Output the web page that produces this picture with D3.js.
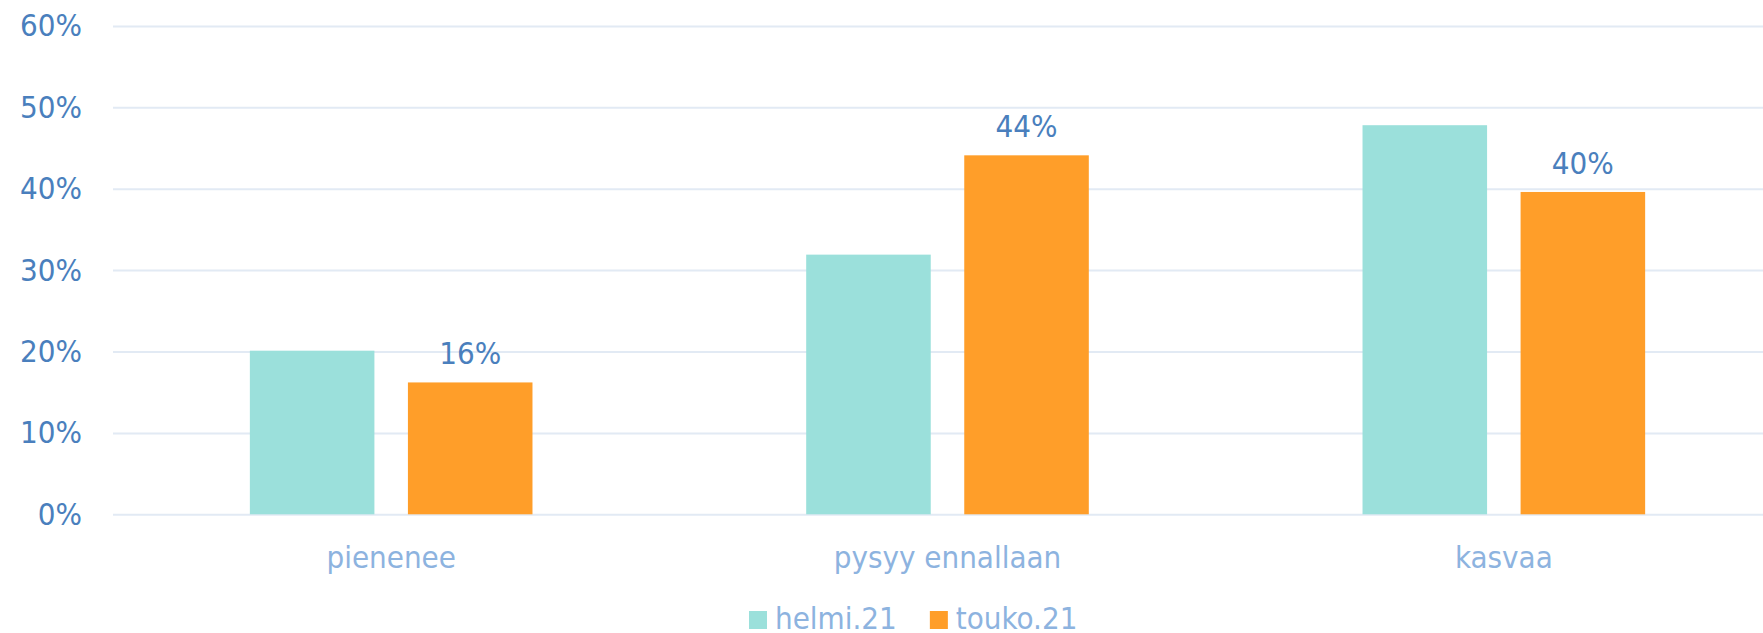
<!DOCTYPE html>
<html>
<head>
    <meta charset="utf-8">
    <title>pienenee / pysyy ennallaan / kasvaa</title>
    <script src="https://d3js.org/d3.v7.min.js"></script>
    <style>
        body { margin: 0; background: #fff; }
        text { font-family: "DejaVu Sans Condensed", "DejaVu Sans", sans-serif; }
    </style>
</head>
<body>
<script>
    // data
    const categories = ["pienenee", "pysyy ennallaan", "kasvaa"];
    const seriesNames = ["helmi.21", "touko.21"];
    const helmi = [0.201, 0.319, 0.478];
    const touko = [0.162, 0.441, 0.396];
    const yTicks = [0, 0.1, 0.2, 0.3, 0.4, 0.5, 0.6];

    const colors = ["#9be0db", "#ff9e29"];
    const width = 1763, height = 633;

    const svg = d3.select("body")
        .append("svg")
        .attr("width", width)
        .attr("height", height);

    // plot area runs past the right edge (the original is cropped there)
    const x0 = d3.scaleBand()
        .domain(categories)
        .range([113, 1782])
        .paddingInner(0.492)
        .paddingOuter(0.246);

    const x1 = d3.scaleBand()
        .domain(seriesNames)
        .range([0, x0.bandwidth()])
        .paddingInner(0.212);

    const y = d3.scaleLinear()
        .domain([0, 0.6])
        .range([514.3, 25.9]);

    // gridlines
    svg.append("g")
        .attr("transform", "translate(113,0)")
        .call(d3.axisLeft(y).tickValues(yTicks).tickSize(-(width - 113)).tickFormat(""))
        .call(g => g.select(".domain").remove())
        .call(g => g.selectAll("line").attr("stroke", "#e2eaf4").attr("stroke-width", 2));

    // y tick labels
    svg.append("g")
        .attr("transform", "translate(82,0)")
        .call(d3.axisLeft(y).tickValues(yTicks).tickSize(0).tickPadding(0).tickFormat(d3.format(".0%")))
        .call(g => g.select(".domain").remove())
        .call(g => g.selectAll("text")
            .attr("fill", "#4a7fbd")
            .attr("font-size", 31)
            .attr("font-family", null));

    const table = categories.map((c, i) => ({ cat: c, values: [helmi[i], touko[i]] }));

    const groups = svg.selectAll(".grp")
        .data(table)
        .join("g")
        .attr("class", "grp")
        .attr("transform", d => "translate(" + x0(d.cat) + ",0)");

    groups.selectAll("rect")
        .data(d => d.values.map((v, j) => ({ name: seriesNames[j], v: v, j: j })))
        .join("rect")
        .attr("x", d => x1(d.name))
        .attr("width", x1.bandwidth())
        .attr("y", d => y(d.v))
        .attr("height", d => y(0) - y(d.v))
        .attr("fill", d => colors[d.j]);

    // data labels only on touko.21
    groups.append("text")
        .attr("x", x1("touko.21") + x1.bandwidth() / 2)
        .attr("y", d => y(d.values[1]) - 18)
        .attr("text-anchor", "middle")
        .attr("font-size", 31)
        .attr("fill", "#4a7fbd")
        .text(d => Math.round(d.values[1] * 100) + "%");

    // category labels
    svg.append("g")
        .selectAll("text")
        .data(categories)
        .join("text")
        .attr("x", d => x0(d) + x0.bandwidth() / 2)
        .attr("y", 568)
        .attr("text-anchor", "middle")
        .attr("font-size", 31)
        .attr("fill", "#8db3df")
        .text(d => d);

    // legend
    const legend = svg.append("g");
    let lx = 749;
    seriesNames.forEach((name, i) => {
        legend.append("rect")
            .attr("x", lx)
            .attr("y", 611)
            .attr("width", 18)
            .attr("height", 18)
            .attr("fill", colors[i]);
        const t = legend.append("text")
            .attr("x", lx + 26)
            .attr("y", 629)
            .attr("font-size", 31)
            .attr("fill", "#8db3df")
            .text(name);
        lx += 26 + t.node().getComputedTextLength() + 33;
    });
</script>
</body>
</html>
